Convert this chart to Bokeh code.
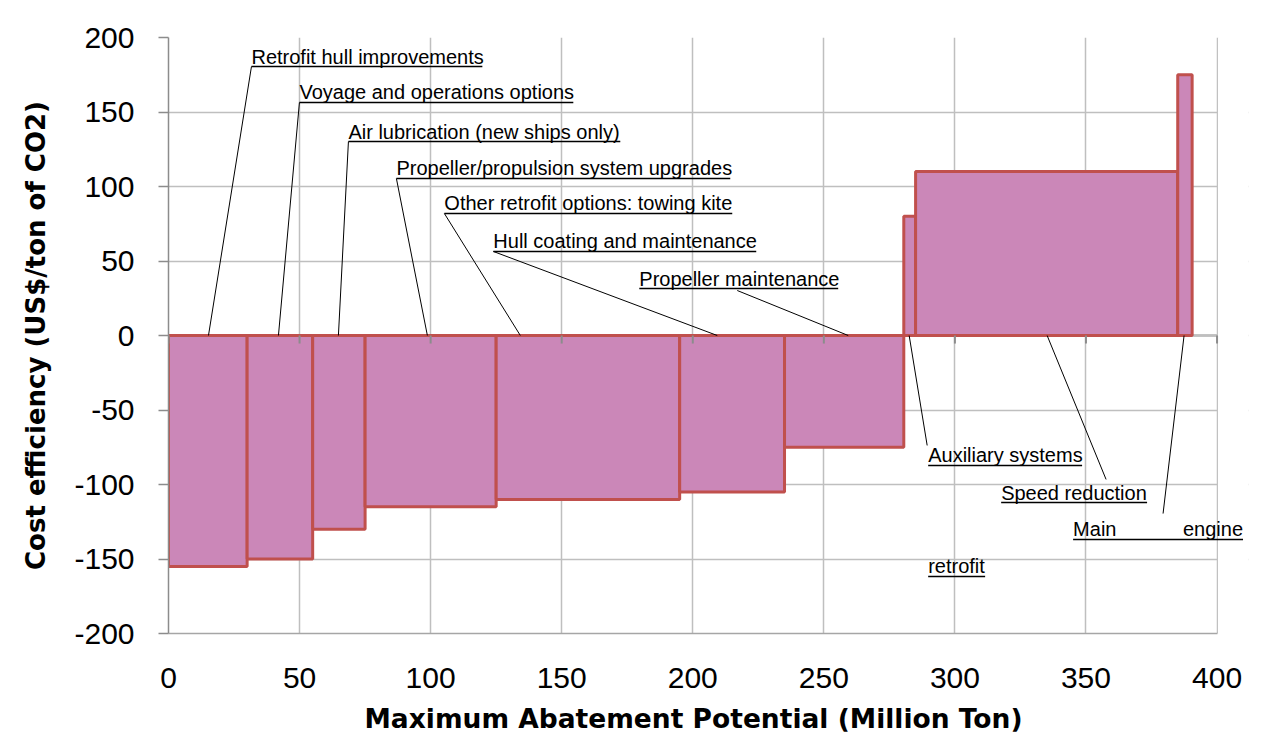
import numpy as np
from bokeh.plotting import figure
from bokeh.models import (Range1d, FixedTicker, Label, ColumnDataSource,
                          PrintfTickFormatter, BoxAnnotation, Title)
from bokeh.embed import file_html
from bokeh.resources import INLINE

# ---------------- data ----------------
measures = [
    "Retrofit hull improvements",
    "Voyage and operations options",
    "Air lubrication (new ships only)",
    "Propeller/propulsion system upgrades",
    "Other retrofit options: towing kite",
    "Hull coating and maintenance",
    "Propeller maintenance",
    "Auxiliary systems",
    "Speed reduction",
    "Main engine retrofit",
]
potential = [30, 25, 20, 50, 70, 40, 45.5, 4.5, 100, 5.5]          # Million ton
cost = [-155, -150, -130, -115, -110, -105, -75, 80, 110, 175]      # US$/ton CO2
x_ticks = [0, 50, 100, 150, 200, 250, 300, 350, 400]
y_ticks = [-200, -150, -100, -50, 0, 50, 100, 150, 200]

# annotation layout (data units): text x, underline y, underline end x,
# leader start (x, y), leader end x on the zero line
ann_x = [31.65, 49.95, 68.64, 86.94, 105.24, 123.93, 179.60, 289.80, 317.64]
ann_y = [180.5, 156.4, 130.2, 105.4, 81.9, 56.4, 31.5, -87.2, -112.1]
ann_end = [119.73, 154.43, 172.35, 214.30, 215.06, 224.21, 255.48, 348.52, 373.31]
lead_x0 = [31.65, 49.95, 68.64, 86.94, 105.24, 123.93, 216.97, 289.42, 357.67]
lead_y0 = [180.5, 156.4, 130.2, 105.4, 81.9, 56.4, 30.2, -73.8, -96.6]
lead_x1 = [15.25, 41.94, 64.82, 98.76, 134.22, 209.34, 259.30, 282.55, 335.18]
# "Main engine retrofit" (justified, wrapped)
me_main_x, me_engine_end, me_y = 345.09, 409.91, -136.9
me_retro_x, me_retro_end, me_retro_y = 289.80, 311.53, -161.7
me_lead = (379.41, -119.5, 387.42)

X_MAX = 400
X_VIEW = 412   # frame extends a little past the axis so the last label is not clipped

# ---------------- figure ----------------
W, H = 1271, 747
FL, FT, FB = 168, 37, 633
px_per = (1217 - FL) / X_MAX
FR = FL + X_VIEW * px_per
p = figure(width=W, height=H, x_range=Range1d(0, X_VIEW), y_range=Range1d(-200, 200),
           output_backend="svg", toolbar_location=None,
           min_border_left=FL, min_border_right=int(round(W - FR)),
           min_border_top=FT, min_border_bottom=H - FB,
           background_fill_color="white", border_fill_color="white")
p.outline_line_color = None

grid_col = "#BFBFBF"
p.xgrid.ticker = FixedTicker(ticks=x_ticks)
p.ygrid.ticker = FixedTicker(ticks=y_ticks)
for g in (p.xgrid, p.ygrid):
    g.grid_line_color = grid_col
    g.grid_line_width = 1.5

p.xaxis.ticker = FixedTicker(ticks=x_ticks)
p.yaxis.ticker = FixedTicker(ticks=y_ticks)
p.xaxis.bounds = (0, X_MAX)
p.xaxis.formatter = PrintfTickFormatter(format="%d")
p.yaxis.formatter = PrintfTickFormatter(format="%d")
p.xaxis.axis_line_color = "#A6A6A6"
p.xaxis.axis_line_width = 1.5
p.xaxis.major_tick_line_color = None
p.xaxis.major_tick_out = 0
p.xaxis.major_tick_in = 0
p.xaxis.minor_tick_line_color = None
p.xaxis.major_label_standoff = 34
p.yaxis.axis_line_color = "#8C8C8C"
p.yaxis.axis_line_width = 1.5
p.yaxis.major_tick_line_color = "#8C8C8C"
p.yaxis.major_tick_line_width = 1.5
p.yaxis.major_tick_out = 10
p.yaxis.major_tick_in = 0
p.yaxis.minor_tick_line_color = None
p.yaxis.major_label_standoff = 24
for ax in (p.xaxis, p.yaxis):
    ax.major_label_text_font = "Liberation Sans"
    ax.major_label_text_font_size = "30px"
    ax.major_label_text_color = "black"
p.yaxis.axis_label = "Cost efficiency (US$/ton of CO2)"
p.yaxis.axis_label_text_font = "DejaVu Sans"
p.yaxis.axis_label_text_font_style = "bold"
p.yaxis.axis_label_text_color = "black"
p.yaxis.axis_label_text_font_size = "26px"
p.yaxis.axis_label_standoff = 20

# x-axis title centred under the axis (0..400), not under the wider frame
p.add_layout(Title(text="Maximum Abatement Potential (Million Ton)", align="left",
                   offset=196, text_font="DejaVu Sans", text_font_style="bold",
                   text_font_size="26.5px", text_color="black", standoff=20), "below")

# zero line (category axis crossing at 0)
p.segment(x0=[0], x1=[X_MAX], y0=[0], y1=[0], line_color="#8C8C8C",
          line_width=2, level="underlay")
# blank out the strip right of the axis end
p.add_layout(BoxAnnotation(left=X_MAX + 0.35, fill_color="white", fill_alpha=1,
                           line_color=None, level="underlay"))

# ---------------- bars ----------------
right = np.cumsum(potential)
left = right - np.array(potential)
src = ColumnDataSource(dict(left=left, right=right,
                            top=np.maximum(cost, 0), bottom=np.minimum(cost, 0),
                            name=measures))
p.quad(left="left", right="right", top="top", bottom="bottom", source=src,
       fill_color="#CB87B8", line_color="#C0504D", line_width=3)

# tick marks on the zero line
p.segment(x0=x_ticks, x1=x_ticks, y0=[0] * len(x_ticks), y1=[-5.4] * len(x_ticks),
          line_color="#8C8C8C", line_width=2)

# ---------------- annotations ----------------
font = "Liberation Sans"
fs = "20px"
YOFF = -1
ul_x0, ul_x1, ul_y = [], [], []
ld_x0, ld_y0, ld_x1 = [], [], []
for i in range(9):
    p.add_layout(Label(x=ann_x[i], y=ann_y[i], text=measures[i], text_font=font,
                       text_font_size=fs, text_color="black", y_offset=YOFF,
                       text_baseline="bottom"))
    ul_x0.append(ann_x[i]); ul_x1.append(ann_end[i]); ul_y.append(ann_y[i])
    ld_x0.append(lead_x0[i]); ld_y0.append(lead_y0[i]); ld_x1.append(lead_x1[i])

main_word, engine_word, retro_word = measures[9].split(" ")
p.add_layout(Label(x=me_main_x, y=me_y, text=main_word, text_font=font, text_font_size=fs,
                   text_color="black", y_offset=YOFF, text_baseline="bottom"))
p.add_layout(Label(x=me_engine_end, y=me_y, text=engine_word, text_font=font,
                   text_font_size=fs, text_color="black", y_offset=YOFF,
                   text_baseline="bottom", text_align="right"))
p.add_layout(Label(x=me_retro_x, y=me_retro_y, text=retro_word, text_font=font,
                   text_font_size=fs, text_color="black", y_offset=YOFF,
                   text_baseline="bottom"))
ul_x0 += [me_main_x, me_retro_x]; ul_x1 += [me_engine_end, me_retro_end]; ul_y += [me_y, me_retro_y]
ld_x0.append(me_lead[0]); ld_y0.append(me_lead[1]); ld_x1.append(me_lead[2])

p.segment(x0=ul_x0, x1=ul_x1, y0=ul_y, y1=ul_y, line_color="black", line_width=1.5)
p.segment(x0=ld_x0, x1=ld_x1, y0=ld_y0, y1=[0] * len(ld_x1), line_color="black", line_width=1)

open("out.html", "w").write(file_html(p, INLINE))
